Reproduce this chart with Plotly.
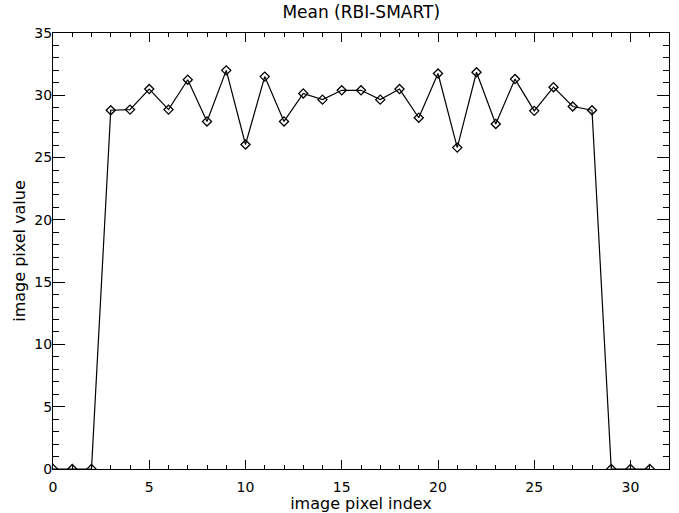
import plotly.graph_objects as go

pixel_index = list(range(32))
mean_values = [0, 0, 0, 28.8, 28.85, 30.5, 28.85, 31.25, 27.9, 32.0, 26.05,
               31.5, 27.9, 30.15, 29.65, 30.4, 30.4, 29.65, 30.5, 28.2, 31.75,
               25.8, 31.85, 27.7, 31.3, 28.75, 30.65, 29.1, 28.8, 0, 0, 0]

title_text = "Mean (RBI-SMART)"
x_label = "image pixel index"
y_label = "image pixel value"

FONT = "DejaVu Sans"

fig = go.Figure()
fig.add_trace(go.Scatter(
    x=pixel_index, y=mean_values, mode="lines+markers",
    line=dict(color="black", width=1.2),
    marker=dict(symbol="diamond-open", size=7, color="black", line=dict(width=1.3, color="black")),
    cliponaxis=True, showlegend=False,
))

axis_common = dict(
    showgrid=False, zeroline=False, showline=True, linecolor="black", linewidth=1,
    mirror="allticks", ticks="inside", tickcolor="black", tickwidth=1,
    tickfont=dict(family=FONT, size=14, color="black"), automargin=False,
)

fig.update_layout(
    width=679, height=513,
    margin=dict(l=53, r=10, t=33, b=44),
    paper_bgcolor="white", plot_bgcolor="white",
    title=dict(text=title_text, x=0.532, xanchor="center", y=0.976, yanchor="middle",
               font=dict(family=FONT, size=17, color="black")),
    xaxis=dict(range=[0, 32], tickmode="linear", tick0=0, dtick=5, ticklen=9,
               ticklabelstandoff=5,
               minor=dict(dtick=1, ticklen=4, ticks="inside", tickcolor="black"),
               title=dict(text=x_label, font=dict(family=FONT, size=16, color="black"), standoff=3),
               **axis_common),
    yaxis=dict(range=[0, 35], tickmode="linear", tick0=0, dtick=5, ticklen=12,
               ticklabelstandoff=-3,
               minor=dict(dtick=1, ticklen=6, ticks="inside", tickcolor="black"),
               title=dict(text=y_label, font=dict(family=FONT, size=16, color="black"), standoff=4),
               **axis_common),
)

fig.write_html("out.html")
